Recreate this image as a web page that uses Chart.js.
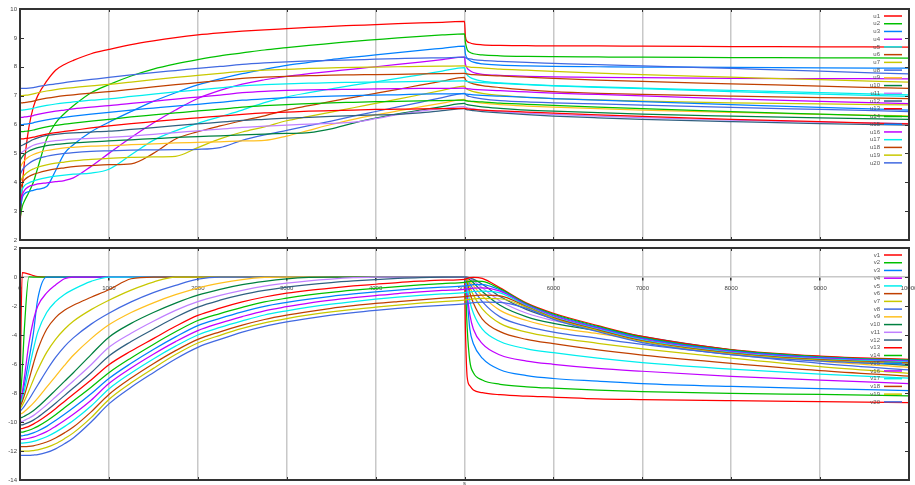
<!DOCTYPE html>
<html>
<head>
<meta charset="utf-8">
<script src="https://cdn.jsdelivr.net/npm/chart.js@4.4.1/dist/chart.umd.min.js"></script>
<style>
  html, body { margin: 0; padding: 0; background: #fff; }
  canvas { display: block; }
</style>
</head>
<body>
<canvas id="uChart" width="915" height="244"></canvas>
<canvas id="vChart" width="915" height="241"></canvas>
<script>
// sample times (s), shared by every series
const times = [0, 25, 50, 100, 150, 200, 300, 400, 500, 600, 800, 1000, 1250, 1500, 1750, 2000, 2250, 2500, 2750, 3000,
  3250, 3500, 3750, 4000, 4250, 4500, 4750, 5000, 5010, 5030, 5060, 5100, 5200, 5400, 5700, 6000, 6500, 7000, 8000, 9000, 10000];

// upper panel
const u1 = [2.5, 3.8, 4.7, 5.9, 6.6, 7.0, 7.5, 7.88, 8.08, 8.22, 8.45, 8.6, 8.77, 8.9, 9.01, 9.1, 9.17, 9.23, 9.28, 9.32, 9.36, 9.4, 9.43, 9.46, 9.49, 9.52, 9.54, 9.57,
  9.05, 8.88, 8.83, 8.79, 8.76, 8.74, 8.73, 8.72, 8.72, 8.71, 8.7, 8.69, 8.68];
const u2 = [2.75, 3.15, 3.35, 3.65, 4.0, 4.5, 5.5, 6.05, 6.38, 6.65, 7.1, 7.38, 7.68, 7.92, 8.1, 8.25, 8.38, 8.48, 8.58, 8.66, 8.74, 8.81, 8.88, 8.94, 9.0, 9.05, 9.1, 9.14,
  8.85, 8.6, 8.5, 8.45, 8.41, 8.38, 8.36, 8.35, 8.34, 8.33, 8.32, 8.31, 8.3];
const u3 = [3.0, 3.45, 3.6, 3.68, 3.72, 3.76, 3.85, 4.4, 5.0, 5.3, 5.75, 6.08, 6.45, 6.8, 7.1, 7.37, 7.58, 7.76, 7.91, 8.05, 8.15, 8.25, 8.33, 8.41, 8.49, 8.57, 8.64, 8.71,
  8.45, 8.3, 8.22, 8.16, 8.1, 8.06, 8.03, 8.01, 8.0, 7.99, 7.98, 7.96, 7.95];
const u4 = [3.25, 3.55, 3.72, 3.85, 3.9, 3.94, 3.98, 4.02, 4.06, 4.15, 4.55, 5.0, 5.55, 6.05, 6.5, 6.9, 7.18, 7.4, 7.55, 7.67, 7.76, 7.84, 7.92, 8.0, 8.08, 8.16, 8.25, 8.33,
  8.1, 7.95, 7.87, 7.8, 7.74, 7.7, 7.67, 7.65, 7.63, 7.62, 7.6, 7.59, 7.58];
const u5 = [3.5, 3.75, 3.88, 3.98, 4.04, 4.09, 4.16, 4.21, 4.25, 4.28, 4.32, 4.45, 4.95, 5.45, 5.78, 6.04, 6.27, 6.5, 6.76, 6.96, 7.1, 7.23, 7.36, 7.48, 7.6, 7.72, 7.85, 7.97,
  7.85, 7.72, 7.64, 7.58, 7.5, 7.44, 7.39, 7.35, 7.3, 7.26, 7.18, 7.1, 7.03];
const u6 = [3.75, 3.95, 4.08, 4.2, 4.27, 4.32, 4.4, 4.46, 4.5, 4.54, 4.58, 4.61, 4.64, 5.0, 5.5, 5.75, 5.95, 6.13, 6.3, 6.5, 6.65, 6.8, 6.94, 7.08, 7.22, 7.36, 7.5, 7.63,
  7.56, 7.5, 7.45, 7.41, 7.35, 7.28, 7.2, 7.14, 7.08, 7.04, 6.98, 6.93, 6.9];
const u7 = [4.0, 4.15, 4.25, 4.38, 4.46, 4.52, 4.6, 4.66, 4.7, 4.74, 4.79, 4.83, 4.86, 4.88, 4.9, 5.2, 5.5, 5.74, 5.92, 6.13, 6.28, 6.43, 6.58, 6.73, 6.88, 7.03, 7.18, 7.33,
  7.28, 7.22, 7.18, 7.14, 7.08, 7.01, 6.94, 6.9, 6.85, 6.81, 6.75, 6.71, 6.68];
const u8 = [4.25, 4.42, 4.52, 4.65, 4.75, 4.82, 4.9, 4.96, 5.0, 5.03, 5.07, 5.09, 5.11, 5.12, 5.13, 5.14, 5.2, 5.45, 5.64, 5.8, 5.96, 6.12, 6.29, 6.45, 6.61, 6.77, 6.93, 7.08,
  7.05, 7.0, 6.97, 6.94, 6.89, 6.83, 6.78, 6.75, 6.71, 6.67, 6.59, 6.52, 6.45];
const u9 = [4.5, 4.65, 4.75, 4.88, 4.96, 5.02, 5.1, 5.15, 5.19, 5.21, 5.25, 5.27, 5.3, 5.33, 5.36, 5.38, 5.4, 5.43, 5.45, 5.6, 5.8, 6.0, 6.18, 6.33, 6.47, 6.61, 6.74, 6.87,
  6.85, 6.82, 6.8, 6.78, 6.74, 6.69, 6.64, 6.6, 6.55, 6.5, 6.42, 6.35, 6.3];
const u10 = [4.75, 4.88, 4.97, 5.08, 5.15, 5.2, 5.27, 5.31, 5.34, 5.36, 5.4, 5.43, 5.47, 5.51, 5.55, 5.58, 5.61, 5.64, 5.67, 5.69, 5.72, 5.85, 6.05, 6.22, 6.37, 6.5, 6.62, 6.73,
  6.71, 6.69, 6.67, 6.65, 6.61, 6.56, 6.5, 6.46, 6.41, 6.36, 6.29, 6.23, 6.18];
const u11 = [5.0, 5.05, 5.1, 5.2, 5.28, 5.33, 5.4, 5.44, 5.47, 5.49, 5.52, 5.55, 5.6, 5.66, 5.72, 5.78, 5.84, 5.9, 5.94, 5.98, 6.01, 6.04, 6.08, 6.2, 6.34, 6.46, 6.55, 6.62,
  6.6, 6.58, 6.56, 6.54, 6.5, 6.45, 6.39, 6.35, 6.29, 6.24, 6.15, 6.08, 6.03];
const u12 = [5.25, 5.28, 5.32, 5.4, 5.48, 5.54, 5.62, 5.66, 5.69, 5.71, 5.74, 5.77, 5.83, 5.89, 5.96, 6.02, 6.08, 6.14, 6.18, 6.22, 6.25, 6.28, 6.31, 6.33, 6.35, 6.4, 6.48, 6.55,
  6.53, 6.51, 6.5, 6.48, 6.45, 6.4, 6.34, 6.29, 6.23, 6.18, 6.1, 6.03, 5.98];
const u13 = [5.5, 5.5, 5.51, 5.53, 5.56, 5.6, 5.67, 5.72, 5.76, 5.8, 5.88, 5.95, 6.03, 6.1, 6.17, 6.23, 6.29, 6.35, 6.4, 6.43, 6.46, 6.48, 6.5, 6.52, 6.53, 6.54, 6.55, 6.56,
  6.55, 6.54, 6.53, 6.52, 6.5, 6.47, 6.43, 6.39, 6.33, 6.28, 6.18, 6.1, 6.02];
const u14 = [5.75, 5.75, 5.76, 5.78, 5.81, 5.85, 5.92, 5.97, 6.01, 6.05, 6.12, 6.18, 6.26, 6.33, 6.4, 6.47, 6.53, 6.6, 6.65, 6.69, 6.72, 6.75, 6.77, 6.79, 6.8, 6.82, 6.83, 6.84,
  6.83, 6.82, 6.81, 6.8, 6.78, 6.74, 6.7, 6.66, 6.6, 6.55, 6.45, 6.36, 6.27];
const u15 = [6.0, 6.0, 6.01, 6.03, 6.06, 6.1, 6.16, 6.21, 6.25, 6.29, 6.36, 6.42, 6.5, 6.57, 6.64, 6.7, 6.77, 6.84, 6.89, 6.93, 6.96, 6.98, 7.0, 7.02, 7.03, 7.05, 7.06, 7.07,
  7.06, 7.05, 7.04, 7.03, 7.01, 6.98, 6.94, 6.9, 6.84, 6.79, 6.69, 6.59, 6.5];
const u16 = [6.25, 6.25, 6.26, 6.28, 6.31, 6.35, 6.41, 6.46, 6.5, 6.54, 6.6, 6.65, 6.73, 6.8, 6.88, 6.95, 7.02, 7.1, 7.15, 7.18, 7.2, 7.21, 7.22, 7.23, 7.24, 7.25, 7.25, 7.26,
  7.25, 7.24, 7.23, 7.22, 7.2, 7.17, 7.13, 7.09, 7.04, 6.99, 6.89, 6.8, 6.72];
const u17 = [6.5, 6.5, 6.51, 6.53, 6.56, 6.6, 6.66, 6.71, 6.75, 6.78, 6.84, 6.89, 6.97, 7.05, 7.13, 7.2, 7.27, 7.34, 7.38, 7.41, 7.43, 7.45, 7.46, 7.47, 7.48, 7.49, 7.5, 7.51,
  7.5, 7.49, 7.48, 7.47, 7.45, 7.42, 7.38, 7.34, 7.29, 7.24, 7.14, 7.05, 6.97];
const u18 = [6.75, 6.75, 6.76, 6.78, 6.81, 6.85, 6.91, 6.96, 7.0, 7.03, 7.09, 7.14, 7.22, 7.3, 7.38, 7.45, 7.52, 7.6, 7.64, 7.67, 7.69, 7.71, 7.72, 7.73, 7.74, 7.75, 7.76, 7.77,
  7.76, 7.75, 7.74, 7.73, 7.71, 7.68, 7.64, 7.6, 7.54, 7.49, 7.41, 7.33, 7.25];
const u19 = [7.0, 7.0, 7.01, 7.03, 7.06, 7.1, 7.16, 7.21, 7.25, 7.28, 7.34, 7.39, 7.47, 7.55, 7.63, 7.7, 7.77, 7.84, 7.88, 7.91, 7.94, 7.96, 7.98, 7.99, 8.0, 8.01, 8.02, 8.03,
  8.02, 8.0, 7.99, 7.98, 7.96, 7.92, 7.88, 7.84, 7.78, 7.73, 7.64, 7.55, 7.47];
const u20 = [7.25, 7.25, 7.25, 7.26, 7.28, 7.31, 7.36, 7.41, 7.45, 7.49, 7.56, 7.63, 7.72, 7.8, 7.87, 7.94, 8.01, 8.08, 8.13, 8.17, 8.2, 8.22, 8.24, 8.26, 8.28, 8.3, 8.31, 8.33,
  8.31, 8.29, 8.27, 8.25, 8.22, 8.19, 8.15, 8.12, 8.07, 8.03, 7.94, 7.85, 7.75];

// lower panel
const v1 = [-8.6, 0.3, 0.28, 0.2, 0.1, 0.03, 0, 0, 0, 0, 0, 0, 0, 0, 0, 0, 0, 0, 0, 0, 0, 0, 0, 0, 0, 0, 0, 0,
  -3.5, -6.9, -7.5, -7.8, -7.98, -8.12, -8.22, -8.28, -8.4, -8.45, -8.53, -8.6, -8.67];
const v2 = [-8.7, -6.5, -3.5, 0, 0, 0, 0, 0, 0, 0, 0, 0, 0, 0, 0, 0, 0, 0, 0, 0, 0, 0, 0, 0, 0, 0, 0, 0,
  -0.5, -3.5, -5.8, -6.6, -7.1, -7.4, -7.57, -7.67, -7.8, -7.9, -8.02, -8.1, -8.19];
const v3 = [-8.75, -8.2, -7.4, -5.7, -3.9, -1.5, 0, 0, 0, 0, 0, 0, 0, 0, 0, 0, 0, 0, 0, 0, 0, 0, 0, 0, 0, 0, 0, 0,
  -0.3, -1.5, -3.6, -4.6, -5.6, -6.4, -6.8, -7.0, -7.18, -7.35, -7.55, -7.7, -7.84];
const v4 = [-8.8, -8.0, -6.9, -4.6, -3.0, -2.0, -1.1, -0.55, -0.12, 0, 0, 0, 0, 0, 0, 0, 0, 0, 0, 0, 0, 0, 0, 0, 0, 0, 0, 0,
  -0.3, -1.2, -2.6, -3.6, -4.6, -5.38, -5.8, -6.02, -6.3, -6.5, -6.85, -7.12, -7.35];
const v5 = [-8.85, -8.4, -7.8, -6.4, -5.0, -3.8, -2.45, -1.7, -1.2, -0.85, -0.3, 0, 0, 0, 0, 0, 0, 0, 0, 0, 0, 0, 0, 0, 0, 0, 0, 0,
  -0.15, -0.7, -1.7, -2.5, -3.6, -4.45, -4.95, -5.22, -5.6, -5.9, -6.35, -6.7, -6.98];
const v6 = [-8.95, -8.6, -8.15, -7.1, -6.0, -5.0, -3.6, -2.8, -2.3, -1.95, -1.4, -0.88, -0.12, 0, 0, 0, 0, 0, 0, 0, 0, 0, 0, 0, 0, 0, 0, 0,
  -0.08, -0.4, -1.1, -1.8, -2.9, -3.77, -4.3, -4.6, -5.03, -5.38, -5.95, -6.45, -6.83];
const v7 = [-9.1, -8.85, -8.55, -7.85, -7.1, -6.4, -5.2, -4.3, -3.6, -3.05, -2.25, -1.6, -0.9, -0.35, 0, 0, 0, 0, 0, 0, 0, 0, 0, 0, 0, 0, 0, 0,
  -0.04, -0.25, -0.7, -1.25, -2.2, -3.2, -3.8, -4.15, -4.57, -4.95, -5.6, -6.18, -6.64];
const v8 = [-9.25, -9.1, -8.9, -8.45, -7.95, -7.45, -6.45, -5.55, -4.8, -4.2, -3.25, -2.5, -1.72, -1.08, -0.58, -0.15, 0, 0, 0, 0, 0, 0, 0, 0, 0, 0, 0, 0,
  -0.02, -0.15, -0.45, -0.85, -1.7, -2.75, -3.4, -3.8, -4.23, -4.65, -5.35, -5.95, -6.41];
const v9 = [-9.47, -9.4, -9.28, -9.0, -8.7, -8.35, -7.6, -6.85, -6.1, -5.4, -4.25, -3.3, -2.45, -1.78, -1.22, -0.76, -0.43, -0.18, -0.03, 0, 0, 0, 0, 0, 0, 0, 0, 0,
  -0.01, -0.08, -0.3, -0.6, -1.3, -2.3, -3.0, -3.45, -3.9, -4.35, -5.15, -5.8, -6.23];
const v10 = [-9.7, -9.68, -9.6, -9.43, -9.22, -8.97, -8.4, -7.8, -7.2, -6.6, -5.35, -4.15, -3.2, -2.45, -1.8, -1.25, -0.85, -0.53, -0.3, -0.13, -0.03, 0, 0, 0, 0, 0, 0, 0,
  0, -0.04, -0.18, -0.4, -1.0, -1.95, -2.75, -3.2, -3.7, -4.2, -5.05, -5.7, -6.1];
const v11 = [-9.95, -9.95, -9.88, -9.74, -9.56, -9.33, -8.82, -8.27, -7.72, -7.17, -6.05, -4.85, -3.88, -3.05, -2.3, -1.7, -1.27, -0.92, -0.63, -0.42, -0.26, -0.14, -0.05, 0, 0, 0, 0, 0,
  0, -0.02, -0.1, -0.25, -0.75, -1.65, -2.5, -3.0, -3.6, -4.15, -5.05, -5.65, -6.0];
const v12 = [-10.2, -10.2, -10.15, -10.03, -9.87, -9.67, -9.2, -8.7, -8.18, -7.66, -6.6, -5.45, -4.45, -3.6, -2.78, -2.08, -1.6, -1.22, -0.93, -0.7, -0.52, -0.38, -0.27, -0.18, -0.1, -0.04, -0.01, 0,
  0, 0, -0.05, -0.15, -0.5, -1.35, -2.25, -2.85, -3.5, -4.1, -5.02, -5.58, -5.93];
const v13 = [-10.45, -10.45, -10.4, -10.3, -10.15, -9.97, -9.55, -9.08, -8.58, -8.08, -7.1, -6.05, -5.1, -4.25, -3.4, -2.65, -2.15, -1.72, -1.38, -1.12, -0.92, -0.76, -0.62, -0.5, -0.38, -0.29, -0.22, -0.16,
  -0.14, -0.1, -0.05, -0.02, -0.1, -0.75, -1.8, -2.5, -3.35, -4.1, -5.0, -5.45, -5.68];
const v14 = [-10.7, -10.7, -10.66, -10.57, -10.45, -10.3, -9.93, -9.5, -9.02, -8.55, -7.6, -6.6, -5.58, -4.65, -3.78, -3.0, -2.52, -2.1, -1.72, -1.46, -1.24, -1.06, -0.91, -0.78, -0.66, -0.55, -0.45, -0.37,
  -0.36, -0.33, -0.3, -0.28, -0.3, -0.82, -1.85, -2.56, -3.41, -4.16, -5.05, -5.5, -5.72];
const v15 = [-10.95, -10.95, -10.92, -10.85, -10.75, -10.62, -10.3, -9.9, -9.47, -9.02, -8.05, -7.0, -5.95, -5.0, -4.13, -3.35, -2.85, -2.4, -2.02, -1.75, -1.52, -1.33, -1.17, -1.03, -0.9, -0.79, -0.7, -0.62,
  -0.61, -0.59, -0.56, -0.53, -0.52, -0.9, -1.9, -2.62, -3.47, -4.22, -5.1, -5.55, -5.77];
const v16 = [-11.2, -11.2, -11.18, -11.12, -11.04, -10.93, -10.66, -10.3, -9.9, -9.47, -8.5, -7.35, -6.28, -5.33, -4.46, -3.7, -3.18, -2.73, -2.33, -2.05, -1.8, -1.6, -1.43, -1.28, -1.14, -1.03, -0.93, -0.85,
  -0.84, -0.82, -0.8, -0.77, -0.75, -0.98, -1.95, -2.68, -3.53, -4.28, -5.15, -5.6, -5.82];
const v17 = [-11.45, -11.45, -11.44, -11.4, -11.34, -11.25, -11.02, -10.7, -10.32, -9.9, -8.9, -7.72, -6.62, -5.65, -4.77, -4.0, -3.48, -3.03, -2.62, -2.33, -2.08, -1.87, -1.69, -1.53, -1.39, -1.27, -1.17, -1.08,
  -1.07, -1.05, -1.03, -1.0, -0.98, -1.1, -2.0, -2.74, -3.59, -4.34, -5.2, -5.65, -5.87];
const v18 = [-11.7, -11.7, -11.7, -11.68, -11.64, -11.57, -11.38, -11.1, -10.75, -10.35, -9.3, -8.1, -6.97, -5.98, -5.08, -4.3, -3.78, -3.32, -2.93, -2.63, -2.38, -2.16, -1.98, -1.82, -1.69, -1.57, -1.46, -1.36,
  -1.35, -1.33, -1.31, -1.28, -1.25, -1.3, -2.05, -2.8, -3.65, -4.4, -5.25, -5.7, -5.92];
const v19 = [-12.0, -12.0, -12.0, -12.0, -11.97, -11.92, -11.75, -11.5, -11.15, -10.75, -9.7, -8.45, -7.3, -6.3, -5.35, -4.55, -4.02, -3.55, -3.17, -2.87, -2.62, -2.41, -2.23, -2.08, -1.94, -1.81, -1.69, -1.59,
  -1.58, -1.56, -1.54, -1.51, -1.48, -1.5, -2.1, -2.86, -3.71, -4.46, -5.3, -5.75, -5.97];
const v20 = [-12.3, -12.3, -12.3, -12.3, -12.28, -12.25, -12.1, -11.85, -11.5, -11.1, -10.0, -8.75, -7.6, -6.6, -5.65, -4.85, -4.3, -3.8, -3.4, -3.1, -2.85, -2.63, -2.45, -2.3, -2.17, -2.05, -1.95, -1.86,
  -1.85, -1.83, -1.8, -1.77, -1.74, -1.75, -2.17, -2.92, -3.77, -4.52, -5.35, -5.8, -6.02];

const uSeries = [u1, u2, u3, u4, u5, u6, u7, u8, u9, u10, u11, u12, u13, u14, u15, u16, u17, u18, u19, u20];
const vSeries = [v1, v2, v3, v4, v5, v6, v7, v8, v9, v10, v11, v12, v13, v14, v15, v16, v17, v18, v19, v20];

// gnuplot line colours, repeat every 12
const lineColors = ['#ff0000', '#00c000', '#0080ff', '#c000ff', '#00eeee', '#c04000',
  '#c8c800', '#4169e1', '#ffc020', '#008040', '#c080ff', '#306080'];

Chart.defaults.font.family = '"Liberation Sans", Arial, sans-serif';
Chart.defaults.font.size = 6;
Chart.defaults.color = '#444';

// frame with inward ticks + key in the top right corner
const gnuplotLook = {
    id: 'gnuplotLook',
    afterDatasetsDraw(chart) {
        const ctx = chart.ctx;
        const area = chart.chartArea;
        ctx.save();
        ctx.font = '6px "Liberation Sans", Arial, sans-serif';
        ctx.textAlign = 'right';
        ctx.textBaseline = 'middle';
        chart.data.datasets.forEach((ds, i) => {
            const y = area.top + 7 + i * 7.73;
            ctx.fillStyle = '#555';
            ctx.fillText(ds.label, area.right - 29, y);
            ctx.strokeStyle = ds.borderColor;
            ctx.lineWidth = 1.5;
            ctx.beginPath();
            ctx.moveTo(area.right - 25, y);
            ctx.lineTo(area.right - 7, y);
            ctx.stroke();
        });
        ctx.restore();
    },
    afterDraw(chart) {
        const ctx = chart.ctx;
        const a = chart.chartArea;
        const xs = chart.scales.x;
        const ys = chart.scales.y;
        ctx.save();
        ctx.strokeStyle = '#333';
        ctx.lineWidth = 1;
        ctx.beginPath();
        xs.ticks.forEach(t => {
            const px = Math.round(xs.getPixelForValue(t.value)) + 0.5;
            ctx.moveTo(px, a.top); ctx.lineTo(px, a.top + 3);
            ctx.moveTo(px, a.bottom); ctx.lineTo(px, a.bottom - 3);
        });
        ys.ticks.forEach(t => {
            const py = Math.round(ys.getPixelForValue(t.value)) + 0.5;
            ctx.moveTo(a.left, py); ctx.lineTo(a.left + 4, py);
            ctx.moveTo(a.right, py); ctx.lineTo(a.right - 4, py);
        });
        ctx.stroke();
        ctx.lineWidth = 2;
        ctx.strokeRect(a.left, a.top, a.right - a.left, a.bottom - a.top);
        ctx.restore();
    }
};

function buildDatasets(series, prefix) {
    return series.map((vals, i) => ({
        label: prefix + (i + 1),
        data: times.map((t, j) => ({ x: t, y: vals[j] })),
        borderColor: lineColors[i % lineColors.length],
        borderWidth: 1.25,
        pointRadius: 0,
        fill: false,
        cubicInterpolationMode: 'monotone',
        order: series.length - i
    }));
}

function yAxis(min, max, step) {
    return {
        type: 'linear',
        position: 'left',
        min: min,
        max: max,
        ticks: { stepSize: step, padding: 3, color: '#444', font: { size: 6 } },
        grid: { display: false, drawTicks: false },
        border: { display: false },
        afterFit: (s) => { s.width = 20; s.paddingTop = 0; s.paddingBottom = 0; }
    };
}

function xGrid(extra) {
    return Object.assign({
        type: 'linear',
        min: 0,
        max: 10000,
        afterFit: (s) => { s.height = 0; s.paddingLeft = 0; s.paddingRight = 0; }
    }, extra);
}

new Chart(document.getElementById('uChart'), {
    type: 'line',
    data: { datasets: buildDatasets(uSeries, 'u') },
    options: {
        responsive: false,
        devicePixelRatio: 1,
        animation: false,
        layout: { padding: { left: 0, right: 6, top: 9, bottom: 4 } },
        plugins: { legend: { display: false }, tooltip: { enabled: false } },
        scales: {
            x: xGrid({
                position: 'bottom',
                ticks: { stepSize: 1000, display: false },
                grid: { color: '#c8c8c8', lineWidth: 1.5, drawTicks: false },
                border: { display: false }
            }),
            y: yAxis(2, 10, 1)
        }
    },
    plugins: [gnuplotLook]
});

new Chart(document.getElementById('vChart'), {
    type: 'line',
    data: { datasets: buildDatasets(vSeries, 'v') },
    options: {
        responsive: false,
        devicePixelRatio: 1,
        animation: false,
        layout: { padding: { left: 0, right: 6, top: 4, bottom: 0 } },
        plugins: { legend: { display: false }, tooltip: { enabled: false } },
        scales: {
            x: xGrid({
                position: { y: 0 },
                ticks: { stepSize: 1000, padding: 5, autoSkip: false, maxRotation: 0,
                    color: '#444', font: { size: 6 }, callback: (v) => String(v) },
                grid: { color: '#c8c8c8', lineWidth: 1.5, drawTicks: true, tickLength: 3, tickColor: '#333' },
                border: { display: true, color: '#c8c8c8', width: 1.5 }
            }),
            xs: {
                type: 'linear',
                position: 'bottom',
                min: 0,
                max: 10000,
                ticks: { display: false },
                grid: { display: false },
                border: { display: false },
                title: { display: true, text: 's', color: '#444', font: { size: 6 }, padding: { top: 0, bottom: -2 } },
                afterFit: (s) => { s.height = 5; s.paddingLeft = 0; s.paddingRight = 0; }
            },
            y: yAxis(-14, 2, 2)
        }
    },
    plugins: [gnuplotLook]
});
</script>
</body>
</html>
